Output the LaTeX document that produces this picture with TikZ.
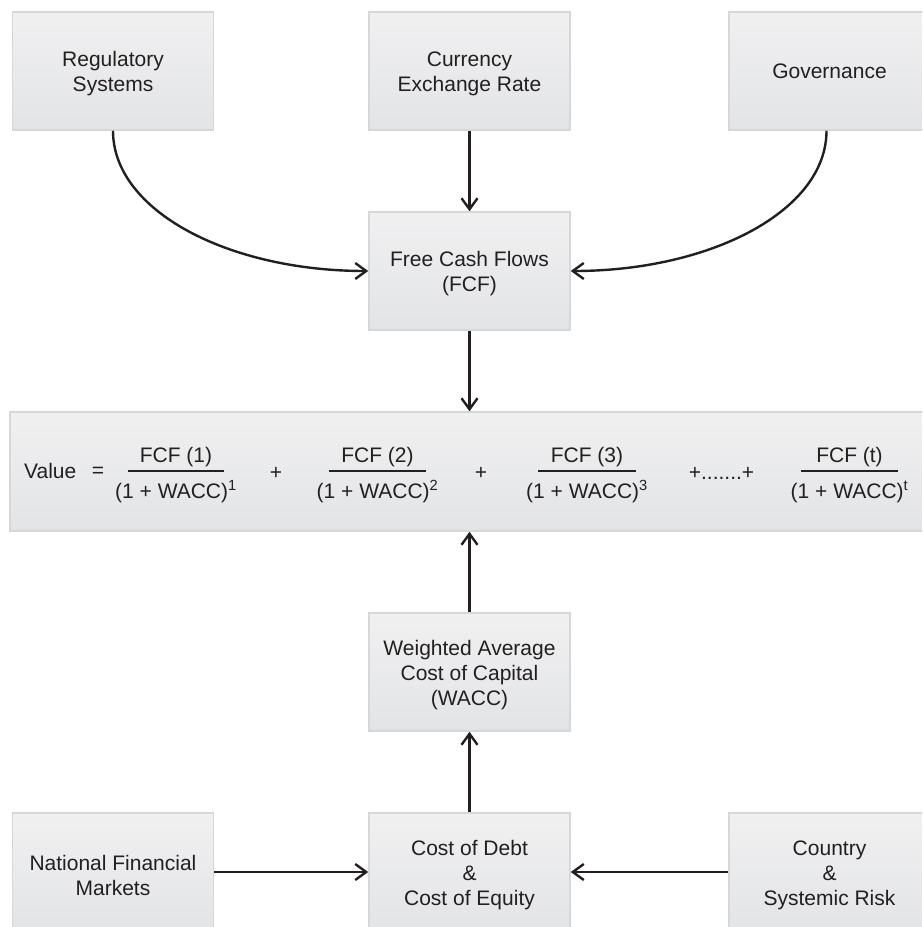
\documentclass[tikz,border=0pt]{standalone}
\usepackage{fontspec}
\setmainfont{Liberation Sans}
\usetikzlibrary{arrows.meta}
\definecolor{txt}{HTML}{231F20}
\definecolor{boxtop}{HTML}{F0F0F1}
\definecolor{boxbot}{HTML}{E3E4E6}
\definecolor{boxline}{HTML}{D6D7D9}
\begin{document}
\begin{tikzpicture}[x=1pt,y=-1pt,
  boxbase/.style={draw=boxline, line width=1.5pt, top color=boxtop, bottom color=boxbot,
    minimum width=201pt, minimum height=118pt, inner sep=0pt, align=center,
    font=\fontsize{21}{25}\selectfont, text=txt},
  boxtxt/.style={align=center, inner sep=0pt, yshift=-3pt,
    font=\fontsize{21}{25}\selectfont, text=txt},
  box/.style={boxbase, label={[boxtxt]center:{#1}}},
  arr/.style={draw=txt, line width=2.4pt, -{Straight Barb[length=11pt,width=16pt]}},
  ftxt/.style={font=\fontsize{21}{25}\selectfont, text=txt, inner sep=0pt},
  fracline/.style={draw=txt, line width=1.2pt}]
\useasboundingbox (0,0) rectangle (922,927);
\clip (0,0) rectangle (922,927);
% boxes
\node[box={Regulatory\\Systems}] (reg) at (113,71) {};
\node[box={Currency\\Exchange Rate}] (cur) at (469.5,71) {};
\node[boxbase] (gov) at (829.5,71) {Governance};
\node[box={Free Cash Flows\\(FCF)}] (fcf) at (469.5,271) {};
\node[boxbase, minimum width=930pt, minimum height=119pt] (val) at (475,471.5) {};
\node[box={Weighted Average\\Cost of Capital\\(WACC)}] (wacc) at (469.5,672) {};
\node[box={National Financial\\Markets}] (nfm) at (113,872) {};
\node[box={Cost of Debt\\\&\\Cost of Equity}] (cod) at (469.5,872) {};
\node[box={Country\\\&\\Systemic Risk}] (crs) at (829.5,872) {};
% formula
\node[ftxt, anchor=base west] (value) at (24,478) {Value};
\node[ftxt] (eq) at (98,472) {=};
\node[ftxt, anchor=base] (n1) at (176,462) {FCF (1)};
\node[ftxt, anchor=base] (d1) at (176,498) {(1 + WACC)\textsuperscript{1}};
\draw[fracline] (128,471) -- (224,471);
\node[ftxt] (p1) at (276,473) {+};
\node[ftxt, anchor=base] (n2) at (377.5,462) {FCF (2)};
\node[ftxt, anchor=base] (d2) at (377.5,498) {(1 + WACC)\textsuperscript{2}};
\draw[fracline] (329,471) -- (426,471);
\node[ftxt] (p2) at (481,473) {+};
\node[ftxt, anchor=base] (n3) at (587,462) {FCF (3)};
\node[ftxt, anchor=base] (d3) at (587,498) {(1 + WACC)\textsuperscript{3}};
\draw[fracline] (538,471) -- (636,471);
\node[ftxt] (p3) at (721.5,473) {+.......+};
\node[ftxt, anchor=base] (n4) at (849.5,462) {FCF (t)};
\node[ftxt, anchor=base] (d4) at (849.5,498) {(1 + WACC)\textsuperscript{t}};
\draw[fracline] (801,471) -- (898,471);
% connectors
\draw[arr] (reg.south) .. controls +(0,80) and +(-140,0) .. (fcf.west);
\draw[arr] ([xshift=-3pt]gov.south) .. controls +(0,80) and +(140,0) .. (fcf.east);
\draw[arr] (cur) -- (fcf);
\draw[arr] (fcf.south) -- (fcf.south |- val.north);
\draw[arr] (wacc.north) -- (wacc.north |- val.south);
\draw[arr] (cod) -- (wacc);
\draw[arr] (nfm) -- (cod);
\draw[arr] (crs) -- (cod);
\end{tikzpicture}
\end{document}
